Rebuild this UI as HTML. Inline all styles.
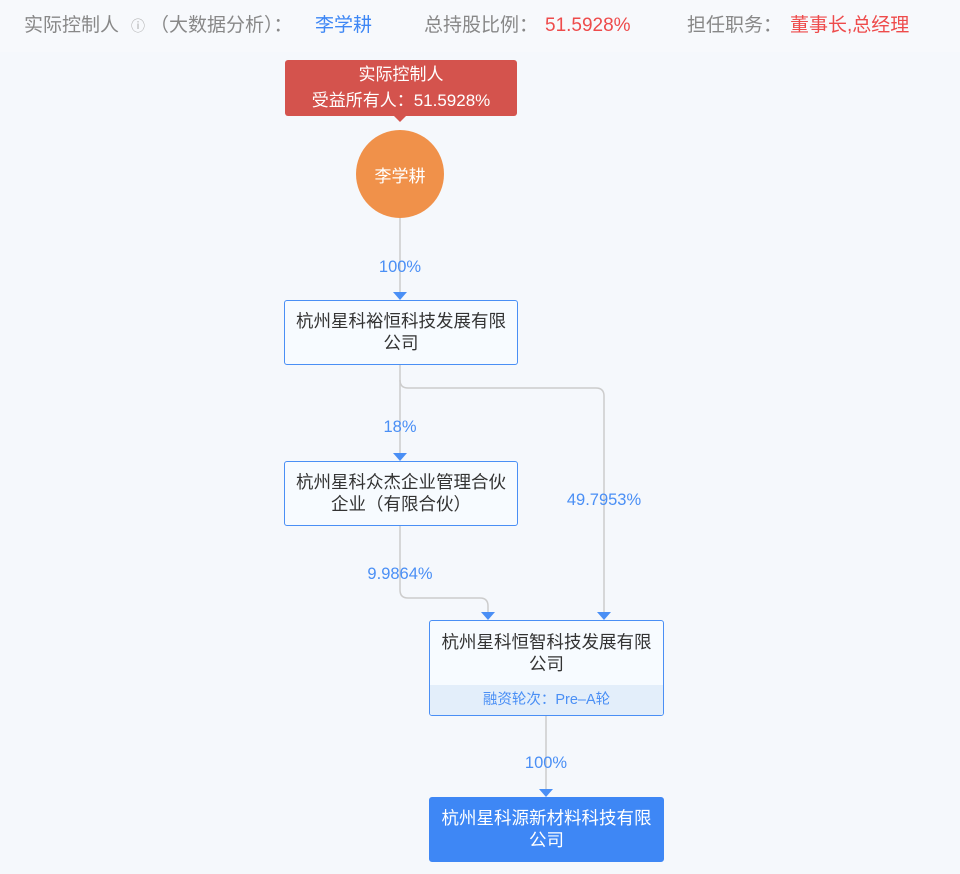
<!DOCTYPE html>
<html><head><meta charset="utf-8"><style>
body{margin:0;width:960px;height:874px;background:#f5f8fc;font-family:"Liberation Sans","Noto Sans CJK SC",sans-serif;position:relative;overflow:hidden}
.a{position:absolute}
.hdr{left:0;top:0;width:960px;height:52px;background:#f7f9fc;font-size:19px;color:#888;line-height:52px}
.hdr span{position:absolute;white-space:nowrap}
.box{position:absolute;background:#f7fbff;border:1.5px solid #4a8ff5;border-radius:3px;box-sizing:border-box;font-size:17.5px;color:#333;text-align:center;line-height:22px}
.lbl{position:absolute;font-size:16.5px;color:#4a8ff5;transform:translateX(-50%);white-space:nowrap}
</style></head><body>
<div class="a hdr"><span style="left:24px">实际控制人</span><span style="left:131px;font-size:14px;color:#aaa">ⓘ</span><span style="left:150px">（大数据分析）：</span><span style="left:315px;color:#3e87f5">李学耕</span><span style="left:424px">总持股比例：</span><span style="left:545px;color:#ee4b4b">51.5928%</span><span style="left:687px">担任职务：</span><span style="left:790px;color:#ee4b4b">董事长,总经理</span></div>
<svg class="a" style="left:0;top:0" width="960" height="874">
<g fill="none" stroke="#ccc" stroke-width="1.5">
<path d="M400 218V294"/><path d="M400 364V455"/><path d="M400 380Q400 388 408 388H596Q604 388 604 396V614"/>
<path d="M400 525V590Q400 598 408 598H480Q488 598 488 606V614"/><path d="M546 715V791"/>
</g>
<g fill="#4a8ff5"><path d="M393 292h14l-7 8z"/><path d="M393 453h14l-7 8z"/><path d="M481 612h14l-7 8z"/><path d="M597 612h14l-7 8z"/><path d="M539 789h14l-7 8z"/></g>
<rect x="285" y="60" width="232" height="56" rx="3" fill="#d4534d"/><path d="M394 116h12l-6 6z" fill="#d4534d"/>
<circle cx="400" cy="174" r="44" fill="#f0914a"/>
</svg>
<div class="a" style="left:285px;top:62px;width:232px;text-align:center;color:#fff;font-size:17px;line-height:26px">实际控制人<br>受益所有人：51.5928%</div>
<div class="a" style="left:356px;top:162px;width:88px;text-align:center;color:#fff;font-size:17px">李学耕</div>
<div class="lbl" style="left:400px;top:258px">100%</div>
<div class="box" style="left:284px;top:300px;width:234px;height:65px;padding-top:9px">杭州星科裕恒科技发展有限<br>公司</div>
<div class="lbl" style="left:400px;top:418px">18%</div>
<div class="lbl" style="left:604px;top:491px">49.7953%</div>
<div class="box" style="left:284px;top:461px;width:234px;height:65px;padding-top:9px">杭州星科众杰企业管理合伙<br>企业（有限合伙）</div>
<div class="lbl" style="left:400px;top:565px">9.9864%</div>
<div class="box" style="left:429px;top:620px;width:235px;height:96px;padding-top:10px;overflow:hidden">杭州星科恒智科技发展有限<br>公司<div class="a" style="left:0;bottom:0;width:100%;height:30px;background:#e3eefa;color:#4a8ff5;font-size:14.5px;line-height:30px">融资轮次：Pre–A轮</div></div>
<div class="lbl" style="left:546px;top:754px">100%</div>
<div class="box" style="left:429px;top:797px;width:235px;height:65px;padding-top:9px;background:#3e87f5;border-color:#3e87f5;color:#fff">杭州星科源新材料科技有限<br>公司</div>
</body></html>
